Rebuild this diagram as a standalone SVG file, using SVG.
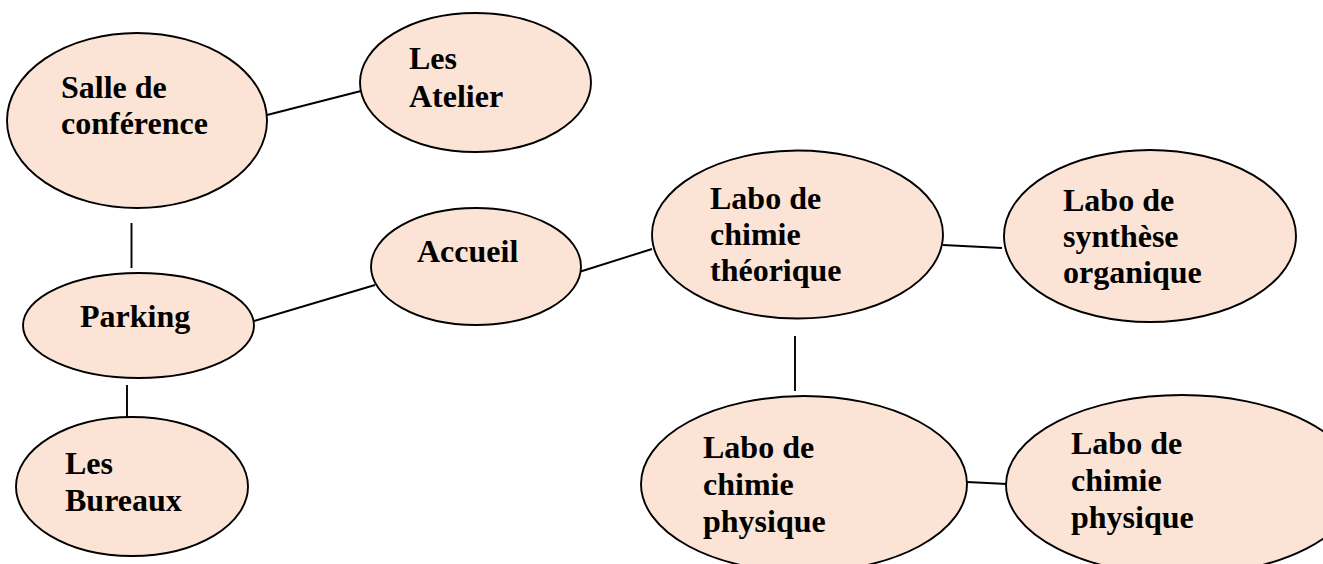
<svg xmlns="http://www.w3.org/2000/svg" width="1323" height="564" viewBox="0 0 1323 564">
  <style>
    .room { fill: #FBE4D5; stroke: #000; stroke-width: 1.9; }
    .label { font-family: "Liberation Serif", "Times New Roman", serif; font-weight: bold; font-size: 32px; fill: #000; }
    .link { stroke: #000; stroke-width: 1.9; fill: none; }
  </style>
  <rect width="1323" height="564" fill="#fff"/>

  <!-- connectors -->
  <g id="connectors">
    <line class="link" x1="267" y1="115" x2="361" y2="91"/>
    <line class="link" x1="131.5" y1="223" x2="131.5" y2="268"/>
    <line class="link" x1="127" y1="385" x2="127" y2="420"/>
    <line class="link" x1="254" y1="321" x2="375" y2="285"/>
    <line class="link" x1="579" y1="272" x2="652" y2="249"/>
    <line class="link" x1="943" y1="245" x2="1002" y2="248"/>
    <line class="link" x1="795" y1="336" x2="795" y2="391"/>
    <line class="link" x1="967" y1="482" x2="1007" y2="484"/>
  </g>

  <g id="salle-conference">
    <ellipse class="room" cx="137" cy="120.5" rx="130" ry="87.5"/>
    <text class="label" x="61" y="98">Salle de</text>
    <text class="label" x="61" y="134">conférence</text>
  </g>

  <g id="ateliers">
    <ellipse class="room" cx="475.5" cy="82.5" rx="115.5" ry="69.5"/>
    <text class="label" x="409" y="69">Les</text>
    <text class="label" x="409" y="107">Atelier</text>
  </g>

  <g id="parking">
    <ellipse class="room" cx="138.5" cy="325.5" rx="115.5" ry="52.5"/>
    <text class="label" x="80" y="327">Parking</text>
  </g>

  <g id="bureaux">
    <ellipse class="room" cx="132" cy="486.5" rx="116" ry="69.5"/>
    <text class="label" x="65" y="474">Les</text>
    <text class="label" x="65" y="511">Bureaux</text>
  </g>

  <g id="accueil">
    <ellipse class="room" cx="476" cy="266.5" rx="105" ry="58.5"/>
    <text class="label" x="417" y="262">Accueil</text>
  </g>

  <g id="labo-theorique">
    <ellipse class="room" cx="797.5" cy="234.5" rx="145.5" ry="84"/>
    <text class="label" x="710" y="209">Labo de</text>
    <text class="label" x="710" y="245">chimie</text>
    <text class="label" x="710" y="281">théorique</text>
  </g>

  <g id="labo-synthese">
    <ellipse class="room" cx="1150" cy="236" rx="146" ry="86"/>
    <text class="label" x="1063" y="211">Labo de</text>
    <text class="label" x="1063" y="247">synthèse</text>
    <text class="label" x="1063" y="283">organique</text>
  </g>

  <g id="labo-physique-1">
    <ellipse class="room" cx="804" cy="484" rx="163" ry="88"/>
    <text class="label" x="703" y="458">Labo de</text>
    <text class="label" x="703" y="495">chimie</text>
    <text class="label" x="703" y="532">physique</text>
  </g>

  <g id="labo-physique-2">
    <ellipse class="room" cx="1182" cy="485" rx="176" ry="90"/>
    <text class="label" x="1071" y="454">Labo de</text>
    <text class="label" x="1071" y="491">chimie</text>
    <text class="label" x="1071" y="528">physique</text>
  </g>
</svg>
